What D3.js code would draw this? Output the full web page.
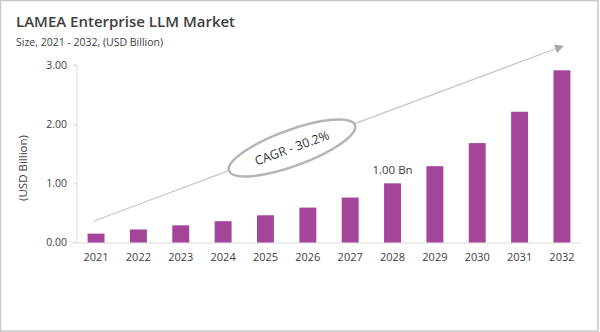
<!DOCTYPE html>
<html>
<head>
<meta charset="utf-8">
<script src="https://cdn.jsdelivr.net/npm/d3@7"></script>
<style>
  body { margin: 0; background: #fff; }
  svg { display: block; font-family: "Open Sans", sans-serif; }
</style>
</head>
<body>
<div id="chart"></div>
<script>
// Chart data
const years = ['2021', '2022', '2023', '2024', '2025', '2026', '2027', '2028', '2029', '2030', '2031', '2032'];
const marketSize = [0.15, 0.22, 0.29, 0.36, 0.46, 0.59, 0.76, 1.00, 1.29, 1.68, 2.21, 2.91];
const yTicks = [0, 1, 2, 3];
const labelYear = '2028';
const labelText = '1.00 Bn';
const cagrText = 'CAGR - 30.2%';

const width = 600, height = 332;

const svg = d3.select('#chart').append('svg')
    .attr('width', width)
    .attr('height', height);

// outer frame
svg.append('rect')
    .attr('x', 0.5).attr('y', 0.5)
    .attr('width', 597.5).attr('height', 330.5)
    .attr('fill', '#fff')
    .attr('stroke', '#c8c8c8')
    .attr('stroke-width', 1.5);

// title block
svg.append('text')
    .attr('x', 16).attr('y', 27)
    .attr('fill', '#404040')
    .attr('font-size', 15)
    .attr('font-weight', 600)
    .text('LAMEA Enterprise LLM Market');

svg.append('text')
    .attr('x', 16).attr('y', 46)
    .attr('fill', '#404040')
    .attr('font-size', 10.5)
    .text('Size, 2021 - 2032, (USD Billion)');

const x = d3.scaleBand()
    .domain(years)
    .range([77, 581])
    .paddingInner(0.6)
    .paddingOuter(0.25);

const y = d3.scaleLinear()
    .domain([0, 3])
    .range([242.5, 65]);

// y axis
const yAxis = svg.append('g')
    .attr('transform', 'translate(77,0)')
    .call(d3.axisLeft(y).tickValues(yTicks).tickFormat(d3.format('.2f')).tickSize(4).tickPadding(6));
yAxis.select('.domain').attr('stroke', '#d9d9d9').attr('d', `M-4,${y(3)}H0V${y(0)}H-4`);
yAxis.selectAll('.tick line').attr('stroke', '#d9d9d9');
yAxis.selectAll('.tick text')
    .attr('fill', '#404040')
    .attr('font-size', 10.5)
    .attr('font-family', '"Open Sans", sans-serif');

// x axis
const xAxis = svg.append('g')
    .attr('transform', `translate(0,${y(0)})`)
    .call(d3.axisBottom(x).tickSize(0).tickPadding(11));
xAxis.select('.domain').attr('stroke', '#d9d9d9');
xAxis.selectAll('.tick text')
    .attr('fill', '#404040')
    .attr('font-size', 11)
    .attr('font-family', '"Open Sans", sans-serif');

// y axis title
svg.append('text')
    .attr('transform', 'translate(27,168) rotate(-90)')
    .attr('text-anchor', 'middle')
    .attr('fill', '#404040')
    .attr('font-size', 11.5)
    .text('(USD Billion)');

// bars
svg.append('g').selectAll('rect')
    .data(years)
    .join('rect')
    .attr('x', d => x(d))
    .attr('y', (d, i) => y(marketSize[i]))
    .attr('width', x.bandwidth())
    .attr('height', (d, i) => y(0) - y(marketSize[i]))
    .attr('fill', '#a5459a');

// value label
svg.append('text')
    .attr('x', x(labelYear) + x.bandwidth() / 2)
    .attr('y', y(marketSize[years.indexOf(labelYear)]) - 9)
    .attr('text-anchor', 'middle')
    .attr('fill', '#404040')
    .attr('font-size', 11.5)
    .text(labelText);

// CAGR trend arrow
svg.append('defs').append('marker')
    .attr('id', 'arrow')
    .attr('viewBox', '0 0 10 10')
    .attr('refX', 9).attr('refY', 5)
    .attr('markerWidth', 9).attr('markerHeight', 9)
    .attr('markerUnits', 'userSpaceOnUse')
    .attr('orient', 'auto')
    .append('path')
    .attr('d', 'M0,0L10,5L0,10z')
    .attr('fill', '#a6a6a6');

svg.append('line')
    .attr('x1', 94).attr('y1', 221)
    .attr('x2', 563).attr('y2', 46)
    .attr('stroke', '#c8c8c8')
    .attr('stroke-width', 1.3)
    .attr('marker-end', 'url(#arrow)');

const cagr = svg.append('g')
    .attr('transform', 'translate(292,148) rotate(-20)');
cagr.append('ellipse')
    .attr('rx', 67).attr('ry', 18)
    .attr('fill', '#fff')
    .attr('stroke', '#b4b4b4')
    .attr('stroke-width', 2.5);
cagr.append('text')
    .attr('text-anchor', 'middle')
    .attr('dy', '0.35em')
    .attr('fill', '#333')
    .attr('font-size', 12.5)
    .text(cagrText);
</script>
</body>
</html>
